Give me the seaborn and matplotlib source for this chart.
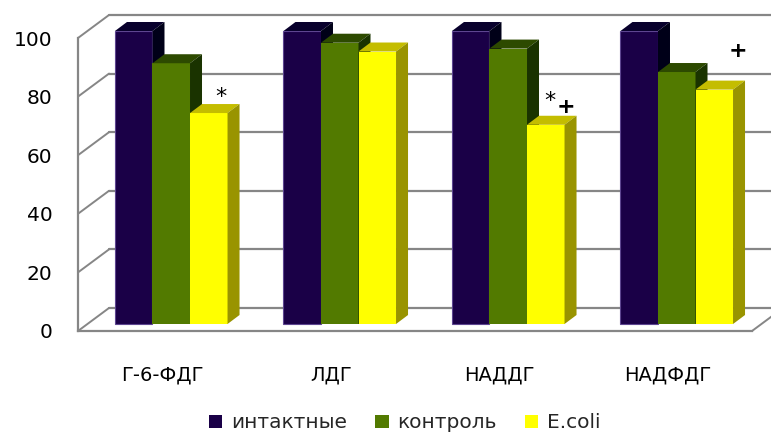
import numpy as np
import pandas as pd
import matplotlib
matplotlib.use("Agg")
import matplotlib.pyplot as plt
from matplotlib.patches import Polygon, Patch
from matplotlib.lines import Line2D
import seaborn as sns

# ---- data -------------------------------------------------------------
categories = ["Г-6-ФДГ", "ЛДГ", "НАДДГ", "НАДФДГ"]
groups = ["интактные", "контроль", "E.coli"]
intact = [100, 100, 100, 100]
control = [89, 96, 94, 86]
ecoli = [72, 93, 68, 80]
y_ticks = [0, 20, 40, 60, 80, 100]

# significance symbols: category index, symbol, horizontal shift, height
mark_cat = [0, 2, 2, 3]
mark_sym = ["*", "*", "+", "+"]
mark_dx = [0.349, 0.301, 0.396, 0.417]
mark_y = [80.0, 78.6, 76.6, 95.4]

# ---- styling ----------------------------------------------------------
front_colors = ["#1a0047", "#527a00", "#ffff00"]
top_colors = ["#08002c", "#2d4a00", "#c4bd00"]
side_colors = ["#000018", "#1a3300", "#999400"]
grid_color = "#868686"

sns.set_theme(style="white")
plt.rcParams["font.family"] = ["DejaVu Sans"]

W, H = 771, 434
fig = plt.figure(figsize=(W / 100, H / 100), dpi=100)
ax = fig.add_axes([78 / W, 103 / H, 674 / W, 293 / H])
ax.set_facecolor("none")

df = pd.DataFrame({
    "category": categories * 3,
    "group": np.repeat(groups, len(categories)),
    "value": intact + control + ecoli,
})

sns.barplot(data=df, x="category", y="value", hue="group",
            order=categories, hue_order=groups, palette=front_colors,
            width=0.668, saturation=1, legend=False, ax=ax,
            linewidth=0, errorbar=None)

ax.set_xlim(-0.5, len(categories) - 0.5)
ax.set_ylim(0, 100)

# pixel -> data scale factors for the pseudo-3D depth
px_x = ax.bbox.width / len(categories)
px_y = ax.bbox.height / 100.0
bar_shift = (9 / px_x, 7 / px_y)     # bars sit a little behind the front plane
bar_depth = (12 / px_x, 9 / px_y)    # depth of each column
wall = (31 / px_x, 23 / px_y)        # depth of the back wall

# ---- walls and gridlines ---------------------------------------------
x_left, x_right = -0.5, len(categories) - 0.5
for v in y_ticks:
    ax.add_line(Line2D([x_left + wall[0], x_right + wall[0] + 1],
                       [v + wall[1]] * 2, color=grid_color, lw=1.6,
                       zorder=1, clip_on=False))
    ax.add_line(Line2D([x_left, x_left + wall[0]], [v, v + wall[1]],
                       color=grid_color, lw=1.4, zorder=1, clip_on=False))
ax.add_line(Line2D([x_right, x_right + wall[0]], [0, wall[1]],
                   color=grid_color, lw=1.4, zorder=1, clip_on=False))

# ---- pseudo-3D columns ------------------------------------------------
bars = sorted(ax.patches, key=lambda p: p.get_x())
for rank, p in enumerate(bars):
    x0, w, h = p.get_x(), p.get_width(), p.get_height()
    xc = x0 + w / 2
    k = int(round((xc - round(xc)) / w)) + 1
    x0 += bar_shift[0]
    x1 = x0 + w
    y0 = bar_shift[1]
    top = y0 + h
    dx, dy = bar_depth
    z = 3 + rank * 0.01
    p.set_x(x0)
    p.set_y(y0)
    p.set_zorder(z)
    p.set_clip_on(False)
    if k == 0:
        p.set_edgecolor("#5d4590")
        p.set_linewidth(0.8)
    ax.add_patch(Polygon([(x0, top), (x1, top), (x1 + dx, top + dy),
                          (x0 + dx, top + dy)], closed=True,
                         facecolor=top_colors[k], lw=0, zorder=z,
                         clip_on=False))
    ax.add_patch(Polygon([(x1, y0), (x1, top), (x1 + dx, top + dy),
                          (x1 + dx, y0 + dy)], closed=True,
                         facecolor=side_colors[k], lw=0, zorder=z,
                         clip_on=False))

# ---- significance marks -----------------------------------------------
for c, s, dx, yv in zip(mark_cat, mark_sym, mark_dx, mark_y):
    ax.text(c + dx, yv, s, ha="center", va="center", fontsize=16,
            fontweight="bold" if s == "+" else "normal",
            color="black", zorder=10, clip_on=False)

# ---- axes ---------------------------------------------------------------
for side in ("top", "right"):
    ax.spines[side].set_visible(False)
for side in ("left", "bottom"):
    ax.spines[side].set_color(grid_color)
    ax.spines[side].set_linewidth(1.6)
    ax.spines[side].set_zorder(2)

ax.set_yticks(y_ticks)
ax.tick_params(axis="y", direction="out", length=7.2, width=1.5,
               color=grid_color, labelsize=14.5, pad=11, labelcolor="black")

ax.set_xticks(np.arange(len(categories) + 1) - 0.5)
ax.set_xticklabels([])
ax.set_xticks(np.arange(len(categories)), minor=True)
ax.set_xticklabels(categories, minor=True)
ax.tick_params(axis="x", which="major", direction="out", length=6,
               width=1.5, color=grid_color)
ax.tick_params(axis="x", which="minor", length=0, pad=25,
               labelsize=14, labelcolor="black")
ax.set_xlabel("")
ax.set_ylabel("")

handles = [Patch(facecolor=c, edgecolor="none") for c in front_colors]
fig.legend(handles, groups, loc="center", bbox_to_anchor=(405 / W, 1 - 423 / H),
           ncol=3, frameon=False, fontsize=14.5, handlelength=0.65,
           handleheight=0.65, handletextpad=0.45, columnspacing=1.4)

fig.savefig("out.png", dpi=100)
